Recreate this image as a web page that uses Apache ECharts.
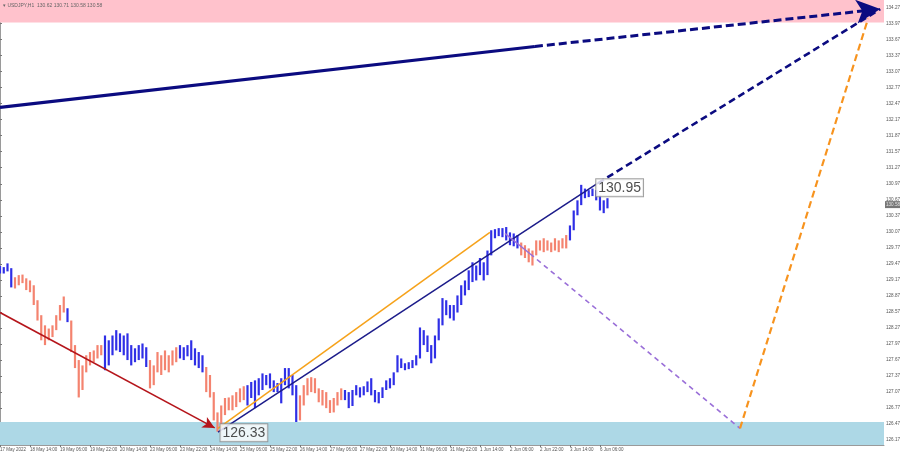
<!DOCTYPE html>
<html><head><meta charset="utf-8">
<script src="https://cdn.jsdelivr.net/npm/echarts@6/dist/echarts.min.js"></script>
<style>html,body{margin:0;padding:0;background:#fff}#c{width:900px;height:454px}</style>
</head><body><div id="c"></div><script>
// ---------- data ----------
const symbolName = 'USDJPY,H1';
const headerOHLC = [130.62, 130.71, 130.58, 130.58];
const lastClose = 130.58;
const BAR_HOURS = 2;            // each bar below = 2 hours of H1 data
const xTickLabels = ['17 May 2022','18 May 14:00','19 May 06:00','19 May 22:00','20 May 14:00','23 May 06:00','23 May 22:00','24 May 14:00','25 May 06:00','25 May 22:00','26 May 14:00','27 May 06:00','27 May 22:00','30 May 14:00','31 May 06:00','31 May 22:00','1 Jun 14:00','2 Jun 06:00','2 Jun 22:00','3 Jun 14:00','6 Jun 06:00'];
const HOURS_PER_LABEL = 16;
const yTickLabels = [126.17,126.47,126.77,127.07,127.37,127.67,127.97,128.27,128.57,128.87,129.17,129.47,129.77,130.07,130.37,130.67,130.97,131.27,131.57,131.87,132.17,132.47,132.77,133.07,133.37,133.67,133.97,134.27];
const barHigh = [129.43,129.41,129.48,129.39,129.22,129.26,129.27,129.20,129.16,129.07,
128.79,128.51,128.32,128.26,128.32,128.51,128.70,128.86,128.64,128.41,
127.95,127.67,127.57,127.76,127.82,127.85,127.95,127.95,128.13,128.04,
128.13,128.23,128.17,128.13,128.17,127.95,127.89,127.95,127.98,127.91,
127.67,127.57,127.82,127.76,127.85,127.76,127.85,127.91,127.95,127.91,
127.95,128.04,127.89,127.82,127.76,127.54,127.39,127.07,126.69,126.82,
126.96,126.97,127.01,127.07,127.14,127.18,127.20,127.26,127.29,127.33,
127.42,127.39,127.42,127.29,127.24,127.33,127.52,127.52,127.39,127.20,
127.01,127.20,127.33,127.35,127.33,127.14,127.11,127.07,126.92,126.96,
127.07,127.14,127.11,127.07,127.11,127.20,127.16,127.18,127.27,127.33,
127.11,127.07,127.16,127.29,127.33,127.44,127.76,127.70,127.61,127.63,
127.67,127.76,128.28,128.23,128.13,127.95,128.13,128.45,128.83,128.79,
128.70,128.70,128.88,129.07,129.16,129.35,129.50,129.44,129.58,129.50,
129.72,130.10,130.12,130.14,130.14,130.16,130.06,130.04,130.01,129.87,
129.82,129.76,129.72,129.91,129.91,129.95,129.91,129.87,129.95,129.91,
129.95,130.01,130.19,130.47,130.66,130.95,130.88,130.85,130.88,130.85,
130.75,130.66,130.70];
const barLow = [129.29,129.29,129.33,129.03,129.01,129.07,129.11,128.98,128.94,128.70,
128.41,128.04,127.95,128.04,128.10,128.23,128.41,128.56,128.38,127.82,
127.52,126.97,127.11,127.44,127.57,127.63,127.70,127.76,127.48,127.57,
127.76,127.85,127.82,127.76,127.67,127.57,127.63,127.67,127.70,127.54,
127.14,127.20,127.44,127.39,127.48,127.44,127.57,127.63,127.70,127.67,
127.74,127.67,127.57,127.52,127.44,127.07,126.97,126.54,126.33,126.39,
126.64,126.73,126.73,126.79,126.88,126.92,126.82,126.96,126.77,127.01,
127.11,127.20,127.14,127.07,127.07,126.86,127.20,127.14,127.01,126.51,
126.54,126.82,127.01,127.07,127.05,126.88,126.82,126.77,126.68,126.69,
126.82,126.92,126.92,126.77,126.81,127.01,126.97,127.01,127.07,127.01,
126.88,126.86,126.96,127.11,127.14,127.20,127.44,127.52,127.48,127.50,
127.52,127.57,127.70,127.95,127.82,127.61,127.70,128.04,128.32,128.51,
128.45,128.41,128.56,128.70,128.88,128.98,129.13,129.16,129.26,129.16,
129.26,129.63,129.95,129.99,129.97,129.91,129.82,129.80,129.76,129.63,
129.58,129.50,129.44,129.63,129.72,129.69,129.72,129.69,129.72,129.69,
129.76,129.76,129.91,130.10,130.38,130.57,130.70,130.72,130.74,130.66,
130.47,130.42,130.51];
// wave colouring: [firstBar, lastBar, direction]
const waveSegments = [[0,3,'up'],[4,17,'down'],[18,18,'up'],[19,27,'down'],[28,39,'up'],[40,47,'down'],[48,54,'up'],[55,65,'down'],[66,79,'up'],[80,91,'down'],[92,138,'up'],[139,151,'down'],[152,162,'up']];
// zones (price ranges)
const resistanceZone = [133.99, 134.41];
const supportZone = [126.08, 126.51];
// wave lines: [hour, price] points
const majorTrendSolid = [[0,132.40],[285.3,133.54]];
const majorTrendDash  = [[285.3,133.54],[469.5,134.24]];
const declineLine     = [[0,128.56],[114.5,126.40]];
const waveAOrange     = [[116.3,126.39],[261.3,130.06]];
const channelLine     = [[116.3,126.32],[318.9,130.98]];
const channelDash     = [[318.9,130.98],[469.5,134.24]];
const purpleSolid     = [[269.3,130.04],[282.7,129.66]];
const purpleDash      = [[282.7,129.66],[394.7,126.39]];
const orangeDash      = [[394.7,126.39],[463,134.06]];

// ---------- build ----------
const UP = '#2f2fe6', DOWN = '#f4836f';
const dirOf = i => { for (const s of waveSegments) if (i >= s[0] && i <= s[1]) return s[2] === 'up' ? 1 : 0; return 1; };
const bars = barHigh.map((h, i) => [i * BAR_HOURS, barLow[i], h, dirOf(i)]);
const peakHigh = Math.max(...barHigh), peakIdx = barHigh.indexOf(peakHigh);
const lowLow = Math.min(...barLow), lowIdx = barLow.indexOf(lowLow);
const X_MAX = 471.5;

function seg(pts, color, width, type, arrowSize){
  const a = {coord: pts[0], symbol: 'none'};
  const b = {coord: pts[1], symbol: arrowSize ? 'arrow' : 'none', symbolSize: arrowSize || 0};
  return [a, b, color, width, type];
}
const lines = [
  seg(majorTrendSolid, '#0b0b80', 3.2, 'solid'),
  seg(majorTrendDash, '#0b0b80', 3, [8,4], [18,24]),
  seg(declineLine, '#b5151b', 1.6, 'solid', [9,12]),
  seg(waveAOrange, '#f6a21a', 1.5, 'solid'),
  seg(channelLine, '#1c1c8a', 1.5, 'solid'),
  seg(channelDash, '#0b0b80', 2.6, [7,4]),
  seg(purpleSolid, '#9a6fd8', 1.5, 'solid'),
  seg(purpleDash, '#9a6fd8', 1.6, [5,4]),
  seg(orangeDash, '#f7931e', 2.2, [7,4])
];
const lineSeries = lines.map((l, i) => ({
  type: 'line', data: [], silent: true, z: 5 + (i === 1 ? 1 : 0),
  markLine: {
    silent: true, animation: false, symbol: ['none','none'], label: {show: false},
    lineStyle: {color: l[2], width: l[3], type: l[4], opacity: 1},
    emphasis: {disabled: true},
    data: [[l[0], l[1]]]
  }
}));

const chart = echarts.init(document.getElementById('c'), null, {renderer: 'canvas'});
chart.setOption({
  animation: false,
  backgroundColor: '#ffffff',
  grid: {left: 0, right: 16, top: 0, bottom: 9, containLabel: false, outerBoundsMode: 'none'},
  xAxis: {
    type: 'value', min: 0, max: X_MAX,
    axisLine: {show: true, lineStyle: {color: '#9a9a9a', width: 1}},
    axisTick: {show: true, length: 2, lineStyle: {color: '#777'}, customValues: xTickLabels.map((_, i) => i * HOURS_PER_LABEL)},
    axisLabel: {show: true, fontSize: 4.5, color: '#555', fontFamily: 'Liberation Sans', align: 'left', margin: 2.5,
      showMinLabel: true, hideOverlap: false,
      customValues: xTickLabels.map((_, i) => i * HOURS_PER_LABEL),
      formatter: v => xTickLabels[Math.round(v / HOURS_PER_LABEL)] || ''},
    splitLine: {show: false}
  },
  yAxis: {
    type: 'value', position: 'right', min: 126.08, max: 134.41, scale: true,
    axisLine: {show: true, lineStyle: {color: '#9a9a9a', width: 1}},
    axisTick: {show: true, length: 2, inside: false, lineStyle: {color: '#777'}, customValues: yTickLabels},
    axisLabel: {show: true, fontSize: 4.6, color: '#555', fontFamily: 'Liberation Sans', margin: 2,
      customValues: yTickLabels, formatter: v => v.toFixed(2)},
    splitLine: {show: false}
  },
  graphic: [{type: 'text', left: 3, top: 3, z: 100,
    style: {text: '\u25BE ' + symbolName + '  ' + headerOHLC.map(v => v.toFixed(2)).join(' '), fontSize: 5, fill: '#666', fontFamily: 'Liberation Sans'}}],
  series: [
    {type: 'line', data: [], silent: true, z: 1,
     markArea: {silent: true, data: [
       [{yAxis: resistanceZone[0], itemStyle: {color: '#ffc2cc'}}, {yAxis: resistanceZone[1]}],
       [{yAxis: supportZone[0], itemStyle: {color: '#add8e6'}}, {yAxis: supportZone[1]}]
     ]}},
    {type: 'custom', z: 3, silent: true, data: bars, encode: {x: 0, y: [1, 2]},
     renderItem: function(params, api){
       const x = api.value(0), lo = api.value(1), hi = api.value(2), d = api.value(3);
       const a = api.coord([x, hi]), b = api.coord([x, lo]);
       return {type: 'rect', shape: {x: a[0] - 1.1, y: a[1], width: 2.2, height: Math.max(1, b[1] - a[1])},
         style: {fill: d ? UP : DOWN}};
     }},
    ...lineSeries,
    {type: 'scatter', z: 20, silent: true, clip: false, symbolSize: 0,
     data: [
       {value: [peakIdx * BAR_HOURS, peakHigh], label: {position: 'right', distance: 15, offset: [0, 3]}},
       {value: [lowIdx * BAR_HOURS, lowLow], label: {position: 'right', distance: 3, offset: [0, 1]}}
     ],
     label: {show: true, formatter: p => p.value[1].toFixed(2), fontSize: 14, color: '#222', fontFamily: 'Liberation Sans',
       backgroundColor: '#ffffff', borderColor: '#8a8a8a', borderWidth: 1, padding: [2, 2, 1, 2]}},
    {type: 'scatter', z: 20, silent: true, clip: false, symbolSize: 0,
     data: [[X_MAX, lastClose]],
     label: {show: true, position: 'right', distance: 1, formatter: p => p.value[1].toFixed(2), fontSize: 4.6, color: '#fff',
       fontFamily: 'Liberation Sans', backgroundColor: '#555', padding: [1, 1]}}
  ]
});
</script></body></html>
